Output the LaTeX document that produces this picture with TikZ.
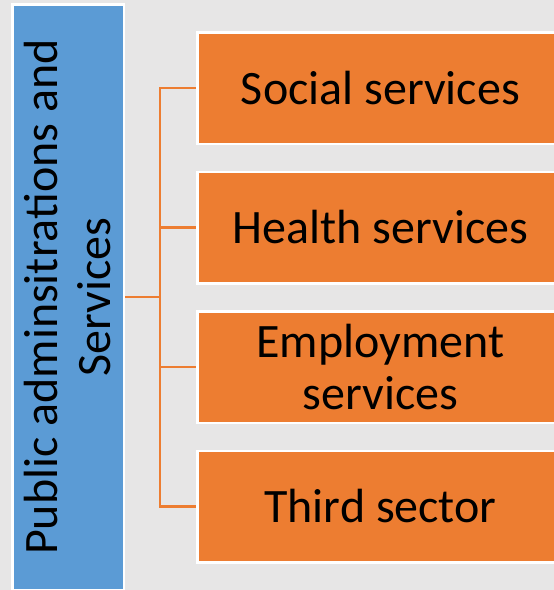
\documentclass[tikz,border=0pt]{standalone}
\usepackage{fontspec}
\setmainfont{Carlito}
\usetikzlibrary{positioning}
\definecolor{bgGray}{HTML}{E7E6E6}
\definecolor{adminBlue}{HTML}{5B9BD5}
\definecolor{servOrange}{HTML}{ED7D31}

\begin{document}
\begin{tikzpicture}[x=1pt,y=-1pt,
  servbox/.style={draw=white, line width=2.5pt, fill=servOrange, inner sep=0pt,
    minimum width=366.5pt, minimum height=111.5pt, align=center,
    font=\fontsize{48}{52}\selectfont},
  adminbox/.style={draw=white, line width=2.5pt, fill=adminBlue, inner sep=0pt,
    rotate=90, minimum width=585.5pt, minimum height=111.5pt, align=center,
    font=\fontsize{48}{53}\selectfont},
  link/.style={draw=servOrange, line width=2.5pt}]
\fill[bgGray] (0,0) rectangle (554,590);
\useasboundingbox (0,0) rectangle (554,590);
\node [adminbox] (admin) at (68,297) {Public adminsitrations and\\Services};
\coordinate (trunk) at (160,297);
\node [servbox] (social) at (380.5,88) {Social services};
\node [servbox] (health) at (380.5,227.5) {Health services};
\node [servbox] (employ) at (380.5,367) {Employment\\services};
\node [servbox] (third) at (380.5,506.5) {Third sector};
%% connectors: trunk to each box
\draw[link] (admin.south) -- (trunk);
\draw[link] (trunk) |- (social.west);
\draw[link] (trunk) |- (health.west);
\draw[link] (trunk) |- (employ.west);
\draw[link] (trunk) |- (third.west);
\end{tikzpicture}
\end{document}
